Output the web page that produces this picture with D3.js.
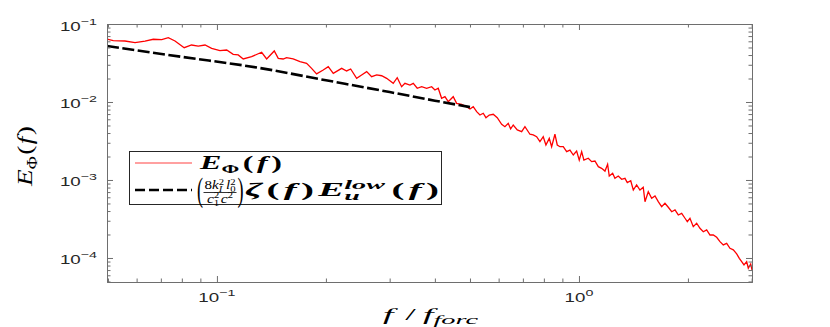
<!DOCTYPE html>
<html><head><meta charset="utf-8">
<script src="https://cdn.jsdelivr.net/npm/d3@7/dist/d3.min.js"></script>
<style>body{margin:0;background:#fff}svg{display:block}</style>
</head><body>
<svg id="c" width="830" height="327"></svg>
<script>
// ---- data ----
const freq = [0.0497,0.0517,0.0557,0.0594,0.0633,0.0667,0.0704,0.0734,0.0766,0.0812,
0.0851,0.0888,0.0927,0.0967,0.1019,0.1064,0.1109,0.1145,0.1182,0.1247,
0.1329,0.1372,0.144,0.1477,0.1524,0.1557,0.1624,0.1696,0.1769,0.1826,
0.1885,0.1966,0.203,0.2096,0.2211,0.2282,0.2341,0.2432,0.251,0.2592,
0.2675,0.2762,0.2851,0.2943,0.3069,0.3148,0.3237,0.3306,0.3413,0.3486,
0.3575,0.3677,0.3795,0.3918,0.4001,0.4086,0.4175,0.4264,0.4355,0.4495,
0.4593,0.4742,0.4895,0.5,0.5105,0.5217,0.5327,0.544,0.5535,0.5652,
0.5798,0.5947,0.6116,0.6245,0.6378,0.6476,0.6584,0.6755,0.6946,0.7093,
0.7322,0.7477,0.764,0.7802,0.7968,0.8105,0.8279,0.8405,0.8583,0.8711,
0.8862,0.905,0.9247,0.9443,0.9645,0.9854,1.0019,1.0174,1.032,1.061,
1.084,1.107,1.131,1.155,1.18,1.2,1.2125,1.239,1.257,1.284,
1.312,1.34,1.36,1.39,1.413,1.443,1.474,1.505,1.522,1.554,
1.588,1.622,1.656,1.692,1.728,1.765,1.804,1.842,1.881,1.922,
1.963,1.992,2.026,2.069,2.114,2.159,2.205,2.253,2.301,2.35,
2.401,2.452,2.504,2.559,2.613,2.669,2.727,2.773,2.815,2.857,
2.906,2.936,2.981,3.006];
const ePhi = [0.0642,0.0611,0.0605,0.0576,0.0605,0.0637,0.0629,0.0667,0.0605,0.0497,
0.0538,0.0522,0.0538,0.0488,0.0455,0.0464,0.0409,0.0401,0.0356,0.0381,
0.0434,0.0356,0.0451,0.0363,0.0356,0.037,0.0356,0.0329,0.0313,0.027,
0.0229,0.0257,0.0284,0.0233,0.027,0.025,0.0265,0.0201,0.0222,0.0245,
0.0211,0.0222,0.0217,0.0201,0.01736,0.0205,0.0157,0.01736,0.0165,0.01736,
0.015,0.0157,0.015,0.0157,0.01425,0.015,0.01115,0.01169,0.01009,0.01169,
0.00962,0.00934,0.0087,0.00813,0.0087,0.00751,0.00681,0.00717,0.00629,0.00681,
0.00696,0.00629,0.00518,0.00482,0.00533,0.00451,0.00507,0.00438,0.00416,0.00482,
0.00386,0.00378,0.00359,0.0031,0.00359,0.00281,0.00342,0.00267,0.00386,0.00281,
0.00267,0.00267,0.00231,0.00242,0.00209,0.00235,0.0018,0.00231,0.0018,0.0019,
0.00172,0.00175,0.00148,0.00141,0.0013,0.00159,0.001125,0.00122,0.00105,0.001125,
0.00102,0.00105,0.000924,0.000979,0.000744,0.000863,0.000744,0.000806,0.000527,0.000708,
0.000583,0.000623,0.000527,0.000455,0.000503,0.000447,0.000392,0.000413,0.000356,0.000374,
0.000323,0.000292,0.000323,0.000252,0.000279,0.00024,0.000217,0.000229,0.000197,0.000197,
0.000184,0.000162,0.000147,0.000154,0.000133,0.000127,0.000113,0.0000991,0.0000897,0.0000813,
0.0000897,0.0000738,0.0000838,0.0000702];
const modelFreq = [0.0497,0.08,0.13,0.2,0.3,0.4,0.5];
const modelE = [0.0522,0.0379,0.0275,0.019,0.0134,0.0104,0.0086];
const xMajor = [0.1, 1];
const xMajorExp = ["\u22121", "0"];
const yMajor = [1e-4, 1e-3, 1e-2, 1e-1];
const yMajorExp = ["\u22124", "\u22123", "\u22122", "\u22121"];

// ---- layout ----
const svg = d3.select("#c");
const M = {l:107, r:752, t:24, b:282};
const SX = 1.5;           // horizontal stretch of the reference text
const x = d3.scaleLog().domain([0.0497, 3.006]).range([M.l, M.r]);
const y = d3.scaleLog().domain([4.92e-5, 0.1]).range([M.b, M.t]);
const axisCol = "#6e6e6e";

const xMinor = x.ticks().filter(v => !xMajor.some(m => Math.abs(m - v) < 1e-9));
const yMinor = y.ticks().filter(v => !yMajor.some(m => Math.abs(m - v) / m < 1e-6));

svg.append("defs").append("clipPath").attr("id","clip")
  .append("rect").attr("x",M.l).attr("y",M.t).attr("width",M.r-M.l).attr("height",M.b-M.t);

// curves
const pts = freq.map((f,i)=>({f, e:ePhi[i]}));
const mpts = modelFreq.map((f,i)=>({f, e:modelE[i]}));
const line = d3.line().x(d=>x(d.f)).y(d=>y(d.e));
const plot = svg.append("g").attr("clip-path","url(#clip)");
plot.append("path").datum(pts).attr("d",line).attr("fill","none")
  .attr("stroke","#ff0000").attr("stroke-width",1.3).attr("stroke-linejoin","miter");
plot.append("path").datum(mpts).attr("d",d3.line().curve(d3.curveMonotoneX).x(d=>x(d.f)).y(d=>y(d.e)))
  .attr("fill","none").attr("stroke","#000").attr("stroke-width",2.6).attr("stroke-dasharray","12,3.5");

// axes (ticks inward, box)
function ax(gen, tr, vals, size){
  const g = svg.append("g").attr("transform",tr)
    .call(gen.tickValues(vals).tickSize(size).tickSizeOuter(0).tickFormat(""));
  g.select(".domain").attr("stroke",axisCol).attr("stroke-width",1);
  g.selectAll(".tick line").attr("stroke",axisCol).attr("stroke-width",1);
  return g;
}
ax(d3.axisBottom(x), `translate(0,${M.b})`, xMajor, -6);
ax(d3.axisBottom(x), `translate(0,${M.b})`, xMinor, -3.5);
ax(d3.axisTop(x), `translate(0,${M.t})`, xMajor, -6);
ax(d3.axisTop(x), `translate(0,${M.t})`, xMinor, -3.5);
ax(d3.axisLeft(y), `translate(${M.l},0)`, yMajor, -6);
ax(d3.axisLeft(y), `translate(${M.l},0)`, yMinor, -3.5);
ax(d3.axisRight(y), `translate(${M.r},0)`, yMajor, -6);
ax(d3.axisRight(y), `translate(${M.r},0)`, yMinor, -3.5);

// sequential text builder (measured); sx may be a number or {fit: width}
function seq(parent, tx, ty, sx, items, anchor, sy){
  const g = parent.append("g");
  let cx = 0, lastStart = 0;
  items.forEach(it=>{
    const start = it.stack ? lastStart : cx;
    const t = g.append("text").attr("x", start + (it.dx||0)).attr("y", it.dy||0)
      .attr("font-family", it.family || "'Liberation Serif', serif")
      .attr("font-size", it.size).attr("font-style", it.style||"normal")
      .attr("font-weight", it.weight||"normal").attr("fill", it.fill||"#000").text(it.t);
    const w = t.node().getComputedTextLength() + (it.dx||0);
    cx = it.stack ? Math.max(cx, start + w) : start + w;
    lastStart = start;
  });
  const s = (typeof sx === "object") ? sx.fit / cx : sx;
  const off = anchor === "middle" ? -cx/2 : anchor === "end" ? -cx : 0;
  g.attr("transform", `translate(${tx},${ty}) scale(${s},${sy||1}) translate(${off},0)`);
  return g;
}
const sans = "'Liberation Sans', Arial, sans-serif";
const tickCol = "#262626";
xMajor.forEach((v,i)=>{
  seq(svg, x(v), 302, SX, [
    {t:"10", size:12.5, family:sans, fill:tickCol},
    {t:xMajorExp[i], size:9.5, dy:-6, family:sans, fill:tickCol}], "middle");
});
yMajor.forEach((v,i)=>{
  seq(svg, 97, y(v)+6.5, SX, [
    {t:"10", size:12.5, family:sans, fill:tickCol},
    {t:yMajorExp[i], size:9.5, dy:-6, family:sans, fill:tickCol}], "end");
});

// x label
seq(svg, 383, 320, {fit:95}, [
  {t:"f", size:16, style:"italic"},
  {t:"/", size:16, dx:5},
  {t:"f", size:16, style:"italic", dx:3},
  {t:"forc", size:12, style:"italic", dy:3.5}], "start");

// y label (rotated)
{
  const g = svg.append("g").attr("transform","translate(32,156) rotate(-90)");
  seq(g, 0, 0, {fit:60}, [
    {t:"E", size:19, style:"italic"},
    {t:"\u03A6", size:12.5, dy:4},
    {t:"(", size:19, dx:1},
    {t:"f", size:19, style:"italic", dx:1},
    {t:")", size:19, dx:1}], "middle", 1.15);
}

// legend
const lg = svg.append("g");
lg.append("rect").attr("x",129.5).attr("y",151.5).attr("width",312).attr("height",53)
  .attr("fill","#fff").attr("stroke","#262626").attr("stroke-width",1);
lg.append("line").attr("x1",135).attr("x2",192).attr("y1",163).attr("y2",163)
  .attr("stroke","#ff8080").attr("stroke-width",1.3);
lg.append("line").attr("x1",135).attr("x2",192).attr("y1",190).attr("y2",190)
  .attr("stroke","#000").attr("stroke-width",2.6).attr("stroke-dasharray","10,4");
const B = {weight:"bold"};
seq(lg, 200, 169, {fit:82}, [
  {t:"E", size:18, style:"italic", ...B},
  {t:"\u03A6", size:12, dy:4, ...B},
  {t:"(", size:18, dx:2, ...B},
  {t:"f", size:18, style:"italic", dx:2, ...B},
  {t:")", size:18, dx:2, ...B}]);
// big (thin) parentheses and fraction
seq(lg, 197, 201, 0.55, [{t:"(", size:33}]);
seq(lg, 237.5, 201, 0.55, [{t:")", size:33}]);
seq(lg, 204.5, 189, {fit:31}, [
  {t:"8", size:12},
  {t:"k", size:12, style:"italic"},
  {t:"2", size:8.5, dy:-4.5},
  {t:"I", size:8.5, style:"italic", dy:2.5, stack:true},
  {t:"l", size:12, style:"italic", dx:1.5},
  {t:"2", size:8.5, dy:-4.5},
  {t:"0", size:8.5, dy:2.5, stack:true}]);
lg.append("line").attr("x1",203.5).attr("x2",236.5).attr("y1",192.5).attr("y2",192.5)
  .attr("stroke","#000").attr("stroke-width",0.8);
seq(lg, 220, 203, 1.3, [
  {t:"c", size:12, style:"italic"},
  {t:"2", size:8.5, dy:-5},
  {t:"1", size:8.5, dy:2.5, stack:true},
  {t:"c", size:12, style:"italic", dx:1},
  {t:"2", size:8.5, dy:-5}], "middle");
seq(lg, 245, 196, {fit:194}, [
  {t:"\u03B6", size:18, style:"italic", ...B},
  {t:"(", size:18, dx:2, ...B},
  {t:"f", size:18, style:"italic", dx:2, ...B},
  {t:")", size:18, dx:2, ...B},
  {t:"E", size:18, style:"italic", dx:2, ...B},
  {t:"low", size:13, style:"italic", dy:-7, ...B},
  {t:"u", size:13, style:"italic", dy:4, stack:true, ...B},
  {t:"(", size:18, dx:3, ...B},
  {t:"f", size:18, style:"italic", dx:2, ...B},
  {t:")", size:18, dx:2, ...B}]);
</script>
</body></html>
